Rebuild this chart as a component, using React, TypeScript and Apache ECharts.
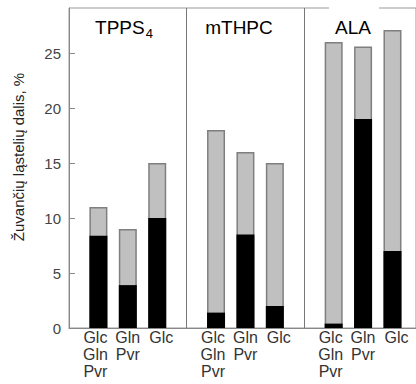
import React, { useEffect, useRef } from "react";
import * as echarts from "echarts";

const groups = ["TPPS", "mTHPC", "ALA"];
const groupSubscripts = ["4", "", ""];
const categories = ["Glc\nGln\nPvr", "Gln\nPvr", "Glc"];
// total dead-cell share (grey + black), % — per group, per category
const totalValues = [
  [11, 9, 15],
  [18, 16, 15],
  [26, 25.6, 27.1],
];
// black part
const blackValues = [
  [8.4, 3.9, 10],
  [1.4, 8.5, 2],
  [0.4, 19, 7],
];
const yTicks = [0, 5, 10, 15, 20, 25];
const yAxisTitle = "Žuvančių ląstelių dalis, %";

const SLOT = 4; // 3 bars + 1 gap per group

export default function App() {
  const ref = useRef<HTMLDivElement>(null);
  useEffect(() => {
    document.body.style.margin = "0";
    if (!ref.current) return;
    const chart = echarts.init(ref.current, undefined, { renderer: "svg" });

    const greyData: number[][] = [];
    const blackData: number[][] = [];
    groups.forEach((_, gi) => {
      categories.forEach((__, ci) => {
        greyData.push([gi * SLOT + ci, totalValues[gi][ci]]);
        blackData.push([gi * SLOT + ci, blackValues[gi][ci]]);
      });
    });

    const font = "'Liberation Sans', Arial, Helvetica, sans-serif";
    const richStyle = { fontSize: 16, lineHeight: 17, color: "#333", fontFamily: font };

    chart.setOption({
      animation: false,
      grid: {
        left: 69,
        top: 8,
        right: -2,
        bottom: 56,
        show: true,
        borderColor: "#999",
        borderWidth: 1,
      },
      xAxis: {
        type: "value",
        min: -1,
        max: 10.8,
        interval: 1,
        axisLine: { show: true, onZero: false, lineStyle: { color: "#888", width: 1 } },
        axisTick: { show: false },
        splitLine: { show: false },
        axisLabel: {
          showMaxLabel: false,
          showMinLabel: true,
          margin: 1,
          fontFamily: font,
          fontSize: 16,
          lineHeight: 17,
          color: "#333",
          verticalAlign: "top",
          formatter: (v: number) => {
            if (!Number.isInteger(v) || v < 0) return "";
            const ci = v % SLOT;
            if (ci >= categories.length) return "";
            const key = ci === 0 ? "l" : ci === 1 ? "m" : "r";
            return `{${key}|${categories[ci]}}`;
          },
          rich: {
            l: { ...richStyle, padding: [0, 6, 0, 0] },
            m: { ...richStyle },
            r: { ...richStyle, padding: [0, 0, 0, 8] },
          },
        },
      },
      yAxis: {
        type: "value",
        min: 0,
        max: 29.1,
        interval: 5,
        axisLine: { show: true, onZero: false, lineStyle: { color: "#888", width: 1 } },
        axisTick: { show: true, inside: true, length: 6, lineStyle: { color: "#888" } },
        splitLine: { show: false },
        axisLabel: {
          showMaxLabel: false,
          margin: 8,
          fontFamily: font,
          fontSize: 15,
          color: "#444",
          formatter: (v: number) => (yTicks.includes(v) ? String(v) : ""),
        },
      },
      series: [
        {
          type: "bar",
          data: greyData,
          barWidth: 18,
          barGap: "-100%",
          itemStyle: { color: "#c0c0c0", borderColor: "#7f7f7f", borderWidth: 1.5 },
          markLine: {
            silent: true,
            symbol: "none",
            label: { show: false },
            lineStyle: { color: "#777", type: "solid", width: 1 },
            data: groups.slice(1).map((_, i) => ({ xAxis: (i + 1) * SLOT - 1 })),
          },
        },
        {
          type: "bar",
          data: blackData,
          barWidth: 18,
          barGap: "-100%",
          itemStyle: { color: "#000" },
        },
      ],
      graphic: [
        ...groups.map((g, gi) => ({
          type: "text",
          z: 100,
          x: [124, 239, 354][gi],
          y: gi === 2 ? 3 : 17,
          style: {
            text: groupSubscripts[gi] ? `{m|${g}}{s|${groupSubscripts[gi]}}` : `{m|${g}}`,
            align: "center",
            verticalAlign: "top",
            backgroundColor: gi === 2 ? "#fff" : "transparent",
            padding: gi === 2 ? [14, 8, 0, 6] : 0,
            rich: {
              m: { fontSize: 19, fontFamily: font, color: "#111", lineHeight: 20 },
              s: { fontSize: 13, fontFamily: font, color: "#111", lineHeight: 20, padding: [12, 0, 0, 1] },
            },
          },
        })),
        {
          type: "text",
          z: 100,
          x: 18,
          y: 157,
          rotation: Math.PI / 2,
          style: {
            text: yAxisTitle,
            align: "center",
            verticalAlign: "middle",
            fontSize: 15,
            fontFamily: font,
            fill: "#222",
          },
        },
      ],
    });
    return () => chart.dispose();
  }, []);
  return <div ref={ref} style={{ width: 416, height: 384 }} />;
}
